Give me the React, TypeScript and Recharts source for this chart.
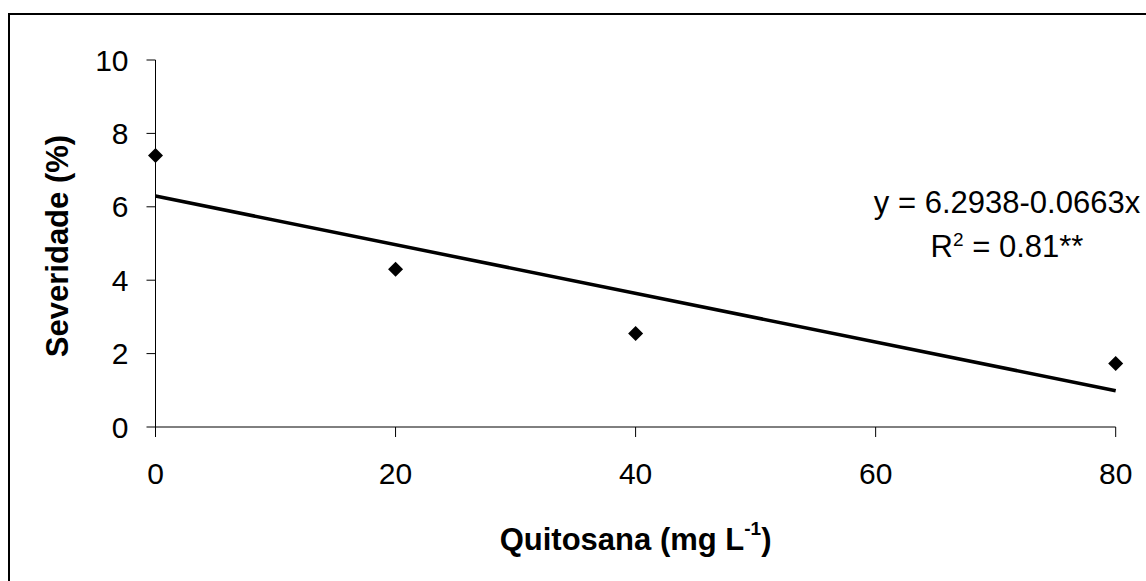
import React from "react";
import {
  ComposedChart, Scatter, XAxis, YAxis, ReferenceLine,
} from "recharts";

// Quitosana dose (mg L-1) vs severidade (%)
const doses = [0, 20, 40, 80];
const severidade = [7.4, 4.3, 2.55, 1.73];

const xTicks = [0, 20, 40, 60, 80];
const yTicks = [0, 2, 4, 6, 8, 10];

// linear fit shown on the chart
const intercept = 6.2938;
const slope = -0.0663;

const points = doses.map((d, i) => ({ x: d, y: severidade[i] }));
const trend = [
  { x: 0, y: intercept + slope * 0 },
  { x: 80, y: intercept + slope * 80 },
];

const FONT = "'Liberation Sans', Arial, Helvetica, sans-serif";

const Diamond = (props: any) => {
  const { cx, cy } = props;
  const r = 7.5;
  return (
    <path
      d={`M${cx},${cy - r} L${cx + r},${cy} L${cx},${cy + r} L${cx - r},${cy} Z`}
      fill="#000"
    />
  );
};

const YLabel = (props: any) => {
  const { viewBox } = props;
  const x = viewBox.x + 58.3;
  const y = viewBox.y + viewBox.height / 2 + 2.5;
  return (
    <text
      x={x}
      y={y}
      transform={`rotate(-90, ${x}, ${y})`}
      textAnchor="middle"
      fontFamily={FONT}
      fontWeight="bold"
      fontSize={31}
      fill="#000"
    >
      Severidade (%)
    </text>
  );
};

const XLabel = (props: any) => {
  const { viewBox } = props;
  const x = viewBox.x + viewBox.width / 2;
  const y = viewBox.y + 122.7;
  return (
    <text
      x={x}
      y={y}
      textAnchor="middle"
      fontFamily={FONT}
      fontWeight="bold"
      fontSize={31}
      fill="#000"
    >
      Quitosana (mg L
      <tspan dy={-15} fontSize={19}>-1</tspan>
      <tspan dy={15}>)</tspan>
    </text>
  );
};

export default function App() {
  return (
    <div
      style={{
        position: "absolute",
        left: 8,
        top: 13,
        width: 1138,
        height: 568,
        borderTop: "2px solid #000",
        borderLeft: "2px solid #000",
        boxSizing: "border-box",
        overflow: "hidden",
        background: "#fff",
        fontFamily: FONT,
      }}
    >
      <ComposedChart
        width={1136}
        height={566}
        margin={{ top: 45, right: 30.3, left: 0, bottom: 0 }}
      >
        <XAxis
          type="number"
          dataKey="x"
          domain={[0, 80]}
          ticks={xTicks}
          tickSize={10}
          tickMargin={26}
          height={154}
          stroke="#000"
          tick={{ fill: "#000", fontSize: 30, fontFamily: FONT }}
          label={<XLabel />}
        />
        <YAxis
          type="number"
          dataKey="y"
          domain={[0, 10]}
          ticks={yTicks}
          tickSize={9}
          tickMargin={18}
          width={145.5}
          stroke="#000"
          tick={{ fill: "#000", fontSize: 30, fontFamily: FONT }}
          label={<YLabel />}
        />
        <ReferenceLine
          segment={trend}
          stroke="#000"
          strokeWidth={3.5}
          ifOverflow="visible"
        />
        <Scatter
          data={points}
          dataKey="y"
          shape={<Diamond />}
          isAnimationActive={false}
        />
      </ComposedChart>
      <div
        style={{
          position: "absolute",
          left: 797,
          top: 172.6,
          width: 400,
          textAlign: "center",
          fontSize: 31,
          lineHeight: "30px",
          color: "#000",
          whiteSpace: "nowrap",
        }}
      >
        y = 6.2938-0.0663x
      </div>
      <div
        style={{
          position: "absolute",
          left: 797,
          top: 216.9,
          width: 400,
          textAlign: "center",
          fontSize: 31,
          lineHeight: "30px",
          color: "#000",
          whiteSpace: "nowrap",
        }}
      >
        R
        <span style={{ fontSize: 19, position: "relative", top: -10.6, lineHeight: 0 }}>2</span>
        {" "}= 0.81**
      </div>
    </div>
  );
}
